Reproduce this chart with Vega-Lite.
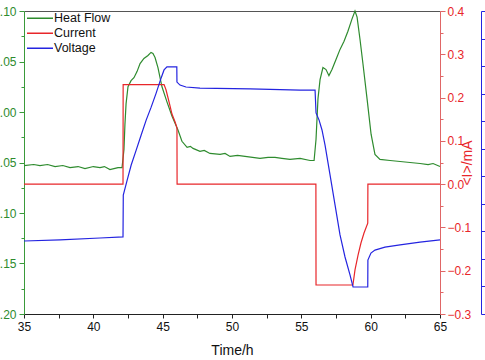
{
  "$schema": "https://vega.github.io/schema/vega-lite/v6.json",
  "width": 416,
  "height": 303,
  "autosize": {"type": "none"},
  "padding": {"left": 24, "top": 11, "right": 45, "bottom": 46},
  "background": "white",
  "config": {
    "view": {"stroke": null},
    "font": "Liberation Sans",
    "axis": {"grid": false, "labelFont": "Liberation Sans", "titleFont": "Liberation Sans", "labelFontSize": 12, "titleFontWeight": "normal"}
  },
  "datasets": {
    "heat": [
      {"series": "Heat Flow", "t": 35.0, "v": -0.053},
      {"series": "Heat Flow", "t": 35.7, "v": -0.052},
      {"series": "Heat Flow", "t": 36.15, "v": -0.053},
      {"series": "Heat Flow", "t": 36.7, "v": -0.052},
      {"series": "Heat Flow", "t": 37.24, "v": -0.054},
      {"series": "Heat Flow", "t": 37.8, "v": -0.053},
      {"series": "Heat Flow", "t": 38.32, "v": -0.055},
      {"series": "Heat Flow", "t": 38.9, "v": -0.054},
      {"series": "Heat Flow", "t": 39.4, "v": -0.056},
      {"series": "Heat Flow", "t": 40.0, "v": -0.054},
      {"series": "Heat Flow", "t": 40.48, "v": -0.055},
      {"series": "Heat Flow", "t": 40.8, "v": -0.054},
      {"series": "Heat Flow", "t": 41.2, "v": -0.057},
      {"series": "Heat Flow", "t": 41.78, "v": -0.055},
      {"series": "Heat Flow", "t": 42.07, "v": -0.055},
      {"series": "Heat Flow", "t": 42.21, "v": -0.037},
      {"series": "Heat Flow", "t": 42.28, "v": -0.012},
      {"series": "Heat Flow", "t": 42.36, "v": 0.008},
      {"series": "Heat Flow", "t": 42.5, "v": 0.025},
      {"series": "Heat Flow", "t": 42.72, "v": 0.031},
      {"series": "Heat Flow", "t": 42.93, "v": 0.034},
      {"series": "Heat Flow", "t": 43.15, "v": 0.04},
      {"series": "Heat Flow", "t": 43.37, "v": 0.048},
      {"series": "Heat Flow", "t": 43.65, "v": 0.053},
      {"series": "Heat Flow", "t": 43.94, "v": 0.056},
      {"series": "Heat Flow", "t": 44.16, "v": 0.059},
      {"series": "Heat Flow", "t": 44.3, "v": 0.058},
      {"series": "Heat Flow", "t": 44.45, "v": 0.054},
      {"series": "Heat Flow", "t": 44.66, "v": 0.044},
      {"series": "Heat Flow", "t": 44.95, "v": 0.025},
      {"series": "Heat Flow", "t": 45.31, "v": 0.01},
      {"series": "Heat Flow", "t": 45.67, "v": -0.004},
      {"series": "Heat Flow", "t": 46.11, "v": -0.018},
      {"series": "Heat Flow", "t": 46.39, "v": -0.029},
      {"series": "Heat Flow", "t": 46.76, "v": -0.035},
      {"series": "Heat Flow", "t": 47.0, "v": -0.034},
      {"series": "Heat Flow", "t": 47.19, "v": -0.036},
      {"series": "Heat Flow", "t": 47.69, "v": -0.039},
      {"series": "Heat Flow", "t": 48.0, "v": -0.038},
      {"series": "Heat Flow", "t": 48.41, "v": -0.041},
      {"series": "Heat Flow", "t": 49.14, "v": -0.042},
      {"series": "Heat Flow", "t": 49.5, "v": -0.041},
      {"series": "Heat Flow", "t": 49.86, "v": -0.044},
      {"series": "Heat Flow", "t": 50.4, "v": -0.043},
      {"series": "Heat Flow", "t": 50.94, "v": -0.044},
      {"series": "Heat Flow", "t": 52.02, "v": -0.046},
      {"series": "Heat Flow", "t": 52.6, "v": -0.045},
      {"series": "Heat Flow", "t": 53.1, "v": -0.045},
      {"series": "Heat Flow", "t": 53.6, "v": -0.046},
      {"series": "Heat Flow", "t": 54.18, "v": -0.047},
      {"series": "Heat Flow", "t": 54.91, "v": -0.046},
      {"series": "Heat Flow", "t": 55.63, "v": -0.048},
      {"series": "Heat Flow", "t": 55.92, "v": -0.048},
      {"series": "Heat Flow", "t": 56.06, "v": -0.027},
      {"series": "Heat Flow", "t": 56.2, "v": 0.013},
      {"series": "Heat Flow", "t": 56.35, "v": 0.032},
      {"series": "Heat Flow", "t": 56.56, "v": 0.044},
      {"series": "Heat Flow", "t": 56.78, "v": 0.042},
      {"series": "Heat Flow", "t": 56.99, "v": 0.036},
      {"series": "Heat Flow", "t": 57.21, "v": 0.042},
      {"series": "Heat Flow", "t": 57.5, "v": 0.052},
      {"series": "Heat Flow", "t": 57.79, "v": 0.062},
      {"series": "Heat Flow", "t": 58.08, "v": 0.07},
      {"series": "Heat Flow", "t": 58.36, "v": 0.08},
      {"series": "Heat Flow", "t": 58.65, "v": 0.092},
      {"series": "Heat Flow", "t": 58.87, "v": 0.1},
      {"series": "Heat Flow", "t": 59.02, "v": 0.094},
      {"series": "Heat Flow", "t": 59.23, "v": 0.072},
      {"series": "Heat Flow", "t": 59.45, "v": 0.047},
      {"series": "Heat Flow", "t": 59.74, "v": 0.013},
      {"series": "Heat Flow", "t": 60.03, "v": -0.022},
      {"series": "Heat Flow", "t": 60.31, "v": -0.042},
      {"series": "Heat Flow", "t": 60.67, "v": -0.047},
      {"series": "Heat Flow", "t": 61.4, "v": -0.048},
      {"series": "Heat Flow", "t": 62.12, "v": -0.049},
      {"series": "Heat Flow", "t": 62.84, "v": -0.05},
      {"series": "Heat Flow", "t": 63.56, "v": -0.051},
      {"series": "Heat Flow", "t": 64.14, "v": -0.052},
      {"series": "Heat Flow", "t": 64.5, "v": -0.051},
      {"series": "Heat Flow", "t": 65.0, "v": -0.054}
    ],
    "current": [
      {"series": "Current", "t": 35.0, "v": 0},
      {"series": "Current", "t": 42.14, "v": 0},
      {"series": "Current", "t": 42.15, "v": 0.23},
      {"series": "Current", "t": 45.1, "v": 0.23},
      {"series": "Current", "t": 45.24, "v": 0.218},
      {"series": "Current", "t": 45.39, "v": 0.199},
      {"series": "Current", "t": 45.53, "v": 0.181},
      {"series": "Current", "t": 45.67, "v": 0.162},
      {"series": "Current", "t": 45.89, "v": 0.144},
      {"series": "Current", "t": 46.03, "v": 0.13},
      {"series": "Current", "t": 46.04, "v": 0},
      {"series": "Current", "t": 56.05, "v": 0},
      {"series": "Current", "t": 56.06, "v": -0.233},
      {"series": "Current", "t": 58.72, "v": -0.233},
      {"series": "Current", "t": 58.87, "v": -0.198},
      {"series": "Current", "t": 59.09, "v": -0.164},
      {"series": "Current", "t": 59.3, "v": -0.136},
      {"series": "Current", "t": 59.52, "v": -0.113},
      {"series": "Current", "t": 59.79, "v": -0.09},
      {"series": "Current", "t": 59.8, "v": 0},
      {"series": "Current", "t": 65.0, "v": 0}
    ],
    "voltage": [
      {"series": "Voltage", "t": 35.0, "v": 0.265},
      {"series": "Voltage", "t": 37.6, "v": 0.269},
      {"series": "Voltage", "t": 40.48, "v": 0.276},
      {"series": "Voltage", "t": 42.14, "v": 0.28},
      {"series": "Voltage", "t": 42.16, "v": 0.432},
      {"series": "Voltage", "t": 42.44, "v": 0.486},
      {"series": "Voltage", "t": 42.73, "v": 0.541},
      {"series": "Voltage", "t": 43.09, "v": 0.595},
      {"series": "Voltage", "t": 43.45, "v": 0.65},
      {"series": "Voltage", "t": 43.81, "v": 0.704},
      {"series": "Voltage", "t": 44.17, "v": 0.751},
      {"series": "Voltage", "t": 44.53, "v": 0.802},
      {"series": "Voltage", "t": 44.89, "v": 0.857},
      {"series": "Voltage", "t": 45.1, "v": 0.886},
      {"series": "Voltage", "t": 45.31, "v": 0.897},
      {"series": "Voltage", "t": 46.02, "v": 0.897},
      {"series": "Voltage", "t": 46.03, "v": 0.842},
      {"series": "Voltage", "t": 46.25, "v": 0.831},
      {"series": "Voltage", "t": 46.68, "v": 0.824},
      {"series": "Voltage", "t": 47.69, "v": 0.82},
      {"series": "Voltage", "t": 51.3, "v": 0.817},
      {"series": "Voltage", "t": 54.91, "v": 0.813},
      {"series": "Voltage", "t": 55.99, "v": 0.813},
      {"series": "Voltage", "t": 56.06, "v": 0.73},
      {"series": "Voltage", "t": 56.28, "v": 0.704},
      {"series": "Voltage", "t": 56.49, "v": 0.668},
      {"series": "Voltage", "t": 56.71, "v": 0.613},
      {"series": "Voltage", "t": 57.07, "v": 0.505},
      {"series": "Voltage", "t": 57.43, "v": 0.396},
      {"series": "Voltage", "t": 57.79, "v": 0.287},
      {"series": "Voltage", "t": 58.15, "v": 0.207},
      {"series": "Voltage", "t": 58.51, "v": 0.142},
      {"series": "Voltage", "t": 58.73, "v": 0.098},
      {"series": "Voltage", "t": 59.79, "v": 0.098},
      {"series": "Voltage", "t": 59.8, "v": 0.196},
      {"series": "Voltage", "t": 60.02, "v": 0.221},
      {"series": "Voltage", "t": 60.31, "v": 0.232},
      {"series": "Voltage", "t": 61.03, "v": 0.243},
      {"series": "Voltage", "t": 62.12, "v": 0.251},
      {"series": "Voltage", "t": 63.56, "v": 0.261},
      {"series": "Voltage", "t": 65.0, "v": 0.269}
    ]
  },
  "resolve": {
    "scale": {"y": "independent"},
    "axis": {"y": "independent", "x": "independent"}
  },
  "layer": [
    {
      "data": {"name": "heat"},
      "mark": {"type": "line", "strokeWidth": 1.2},
      "encoding": {
        "x": {"field": "t", "type": "quantitative", "scale": {"domain": [35, 65], "nice": false, "zero": false},
          "axis": {"orient": "bottom", "values": [35, 40, 45, 50, 55, 60, 65], "title": "Time/h", "titleFontSize": 14, "titleColor": "#111", "titlePadding": 11, "labelColor": "#111", "domainColor": "#222", "tickColor": "#222", "tickSize": 4, "labelPadding": 3, "labelFlush": false}},
        "y": {"field": "v", "type": "quantitative", "scale": {"domain": [-0.2, 0.1], "nice": false, "zero": false},
          "axis": {"orient": "left", "values": [-0.2, -0.15, -0.1, -0.05, 0, 0.05, 0.1], "format": ".2f", "title": null, "labelColor": "#2e8b2e", "domainColor": "#3a9a3a", "tickColor": "#3a9a3a", "tickSize": 5, "labelPadding": 3}},
        "color": {"field": "series", "type": "nominal",
          "scale": {"domain": ["Heat Flow", "Current", "Voltage"], "range": ["#2e8b2e", "#e8262a", "#2424e0"]},
          "legend": {"orient": "none", "legendX": 2, "legendY": 0, "title": null, "symbolType": "stroke", "symbolSize": 676, "symbolStrokeWidth": 1.3, "labelFontSize": 12.5, "labelColor": "#111", "labelOffset": 0, "rowPadding": 0, "clipHeight": 14.5, "labelFont": "Liberation Sans"}},
        "order": {"value": null}
      }
    },
    {
      "data": {"name": "heat"},
      "mark": {"type": "line", "opacity": 0},
      "encoding": {
        "x": {"field": "t", "type": "quantitative", "scale": {"domain": [35, 65], "nice": false, "zero": false},
          "axis": {"orient": "bottom", "values": [37.5, 42.5, 47.5, 52.5, 57.5, 62.5], "labels": false, "domain": false, "title": null, "tickColor": "#222", "tickSize": 4}},
        "y": {"field": "v", "type": "quantitative", "scale": {"domain": [-0.2, 0.1], "nice": false, "zero": false},
          "axis": {"orient": "left", "values": [-0.175, -0.125, -0.075, -0.025, 0.025, 0.075], "labels": false, "domain": false, "title": null, "tickColor": "#3a9a3a", "tickSize": 3}},
        "order": {"value": null}
      }
    },
    {
      "data": {"name": "current"},
      "mark": {"type": "line", "strokeWidth": 1.2},
      "encoding": {
        "x": {"field": "t", "type": "quantitative", "scale": {"domain": [35, 65], "nice": false, "zero": false}, "axis": null},
        "y": {"field": "v", "type": "quantitative", "scale": {"domain": [-0.3, 0.4], "nice": false, "zero": false},
          "axis": {"orient": "right", "values": [-0.3, -0.2, -0.1, 0, 0.1, 0.2, 0.3, 0.4], "format": ".1f", "title": "<I>/mA", "titleColor": "#e8262a", "titleFontSize": 14, "titleAngle": 270, "titlePadding": 4, "labelColor": "#e8262a", "domainColor": "#e06666", "tickColor": "#e06666", "tickSize": 5, "labelPadding": 2}},
        "color": {"field": "series", "type": "nominal"},
        "order": {"value": null}
      }
    },
    {
      "data": {"name": "current"},
      "mark": {"type": "line", "opacity": 0},
      "encoding": {
        "x": {"field": "t", "type": "quantitative", "scale": {"domain": [35, 65], "nice": false, "zero": false},
          "axis": {"orient": "top", "labels": false, "ticks": false, "domainColor": "#555", "title": null}},
        "y": {"field": "v", "type": "quantitative", "scale": {"domain": [-0.3, 0.4], "nice": false, "zero": false},
          "axis": {"orient": "right", "values": [-0.25, -0.15, -0.05, 0.05, 0.15, 0.25, 0.35], "labels": false, "domain": false, "title": null, "tickColor": "#e06666", "tickSize": 3}},
        "order": {"value": null}
      }
    },
    {
      "data": {"name": "voltage"},
      "mark": {"type": "line", "strokeWidth": 1.2},
      "encoding": {
        "x": {"field": "t", "type": "quantitative", "scale": {"domain": [35, 65], "nice": false, "zero": false}, "axis": null},
        "y": {"field": "v", "type": "quantitative", "scale": {"domain": [0, 1.1], "nice": false, "zero": false},
          "axis": {"orient": "right", "offset": 41, "values": [0, 0.1, 0.2, 0.3, 0.4, 0.5, 0.6, 0.7, 0.8, 0.9, 1.0, 1.1], "labels": false, "title": null, "domainColor": "#2424e0", "tickColor": "#2424e0", "tickSize": 4}},
        "color": {"field": "series", "type": "nominal"},
        "order": {"value": null}
      }
    }
  ]
}
